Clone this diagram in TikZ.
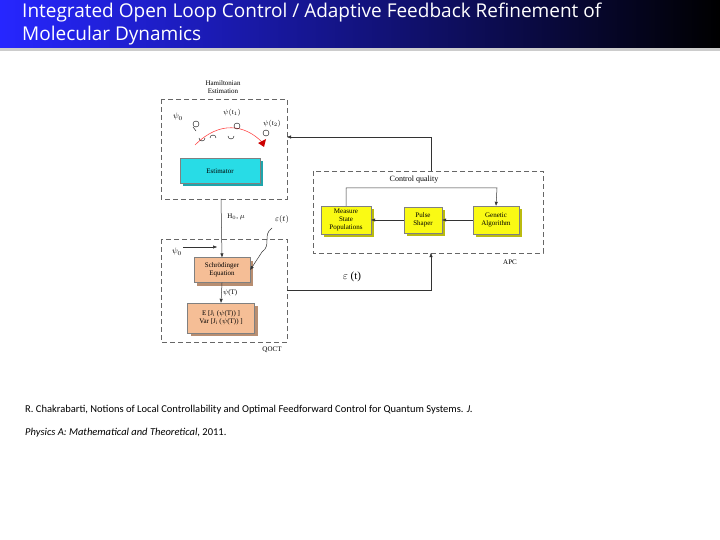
\documentclass[tikz,border=0pt]{standalone}
\usepackage{fontspec}
\setmainfont{Liberation Serif}
\newfontfamily\titlefont{Open Sans}
\newfontfamily\reffont{Carlito}
\usetikzlibrary{arrows.meta,shadings,shadows}
\definecolor{boxcyan}{RGB}{40,220,230}
\definecolor{boxorange}{RGB}{245,190,150}
\definecolor{boxyellow}{RGB}{250,250,20}
\tikzset{
 dbox/.style={draw=gray!80!black,dashed,dash pattern=on 5pt off 3pt,line width=0.9pt},
 blk/.style={draw=black!50,line width=0.4pt,drop shadow={shadow xshift=3pt,shadow yshift=-3pt,fill=#1!75!black,opacity=1},fill=#1,font=\fontsize{7}{8}\selectfont,align=center,inner sep=1pt},
 ln/.style={draw=black!80,line width=0.5pt},
 arr/.style={ln,-{Triangle[length=4pt,width=3pt]}},
 sm/.style={font=\fontsize{7}{8}\selectfont,inner sep=1pt,align=center}
}
\begin{document}
\begin{tikzpicture}[x=1pt,y=-1pt]
\useasboundingbox (0,0) rectangle (720,540);
\fill[white] (0,0) rectangle (720,540);
\shade[left color=blue!85!white,right color=black] (0,0) rectangle (720,48);
\fill[gray!40] (0,48) rectangle (720,51);
\node[anchor=west,text=white,font=\titlefont\fontsize{19}{23}\selectfont,align=left,inner sep=0] (title) at (22,24) {Integrated Open Loop Control / Adaptive Feedback Refinement of\\Molecular Dynamics};
% Hamiltonian estimation
\draw[dbox] (161,99) rectangle (287,199);
\node[sm] (hamlab) at (223,87) {Hamiltonian\\Estimation};
\node[blk=boxcyan,minimum width=80pt,minimum height=25pt] (est) at (220,171) {Estimator};
\node[sm,font=\fontsize{8}{9}\selectfont] (psi0a) at (178,117) {$\psi_0$};
\node[sm] (psi1) at (232,113) {$\psi(\mathrm{t}_1)$};
\node[sm] (psi2) at (272,124) {$\psi(\mathrm{t}_2)$};
\draw[red!70,line width=0.6pt] (195,145) .. controls (220,120) and (245,125) .. (262,142);
\fill[red!80!black] (258,143) -- (266,139) -- (264,147) -- cycle;
\foreach \p in {(196,124),(237,126),(266,133)} \draw[line width=0.4pt] \p circle (3pt);
\draw[line width=0.4pt] (193,127) -- (196,131) (199,138) arc (180:360:3pt) (210,138) arc (180:0:3pt) (228,136) arc (180:360:3pt);
% QOCT
\draw[dbox] (161,239) rectangle (287,342);
\node[sm] (qoctlab) at (272,350) {QOCT};
\node[blk=boxorange,minimum width=56pt,minimum height=25pt] (sch) at (222,270) {Schrödinger\\Equation};
\node[blk=boxorange,minimum width=67pt,minimum height=30pt] (expv) at (221,318) {E [J$_\mathrm{i}$ ($\psi$(T)) ]\\Var [J$_\mathrm{i}$ ($\psi$(T)) ]};
\node[sm,font=\fontsize{8}{9}\selectfont] (psi0b) at (177,252) {$\psi_0$};
\coordinate (hbot) at (221,199);
\draw[arr] (hbot) -- (sch.north);
\draw[arr] (183,247) -- (217,247);
\node[sm] (hmu) at (236,217) {H$_0$, $\mu$};
\node[sm,font=\fontsize{8}{9}\selectfont] (eps1) at (282,220) {$\varepsilon(t)$};
\draw[arr] (272,228) .. controls (262,235) and (272,245) .. (262,252) -- (sch.east);
\draw[arr] (sch.south) -- node[sm,right] {$\psi$(T)} (expv.north);
% APC
\draw[dbox] (313,171) rectangle (543,253);
\node[sm] (apclab) at (510,262) {APC};
\node[sm,font=\fontsize{8}{9}\selectfont] (cq) at (414,180) {Control quality};
\node[blk=boxyellow,minimum width=50pt,minimum height=28pt] (meas) at (346,220) {Measure\\State\\Populations};
\node[blk=boxyellow,minimum width=38pt,minimum height=26pt] (pulse) at (423,220) {Pulse\\Shaper};
\node[blk=boxyellow,minimum width=46pt,minimum height=28pt] (gen) at (496,220) {Genetic\\Algorithm};
\draw[arr] (gen) -- (pulse);
\draw[arr] (pulse) -- (meas);
\draw[arr] (meas.north) |- (497,188) -- (gen.north);
% feedback lines
\coordinate (apctop) at (431,171);
\coordinate (hamr) at (287,137);
\draw[arr] (apctop) |- (hamr);
\coordinate (qoctr) at (287,290);
\coordinate (apcbot) at (431,253);
\draw[arr] (qoctr) -| (apcbot);
\node[font=\fontsize{11}{12}\selectfont] (eps2) at (352,277) {$\varepsilon$ (t)};
% reference
\node[anchor=west,font=\reffont\fontsize{10.5}{23}\selectfont,align=left,inner sep=0] (ref) at (25,421) {R. Chakrabarti, Notions of Local Controllability and Optimal Feedforward Control for Quantum Systems. \textit{J.}\\\textit{Physics A: Mathematical and Theoretical}, 2011.};
\end{tikzpicture}
\end{document}
